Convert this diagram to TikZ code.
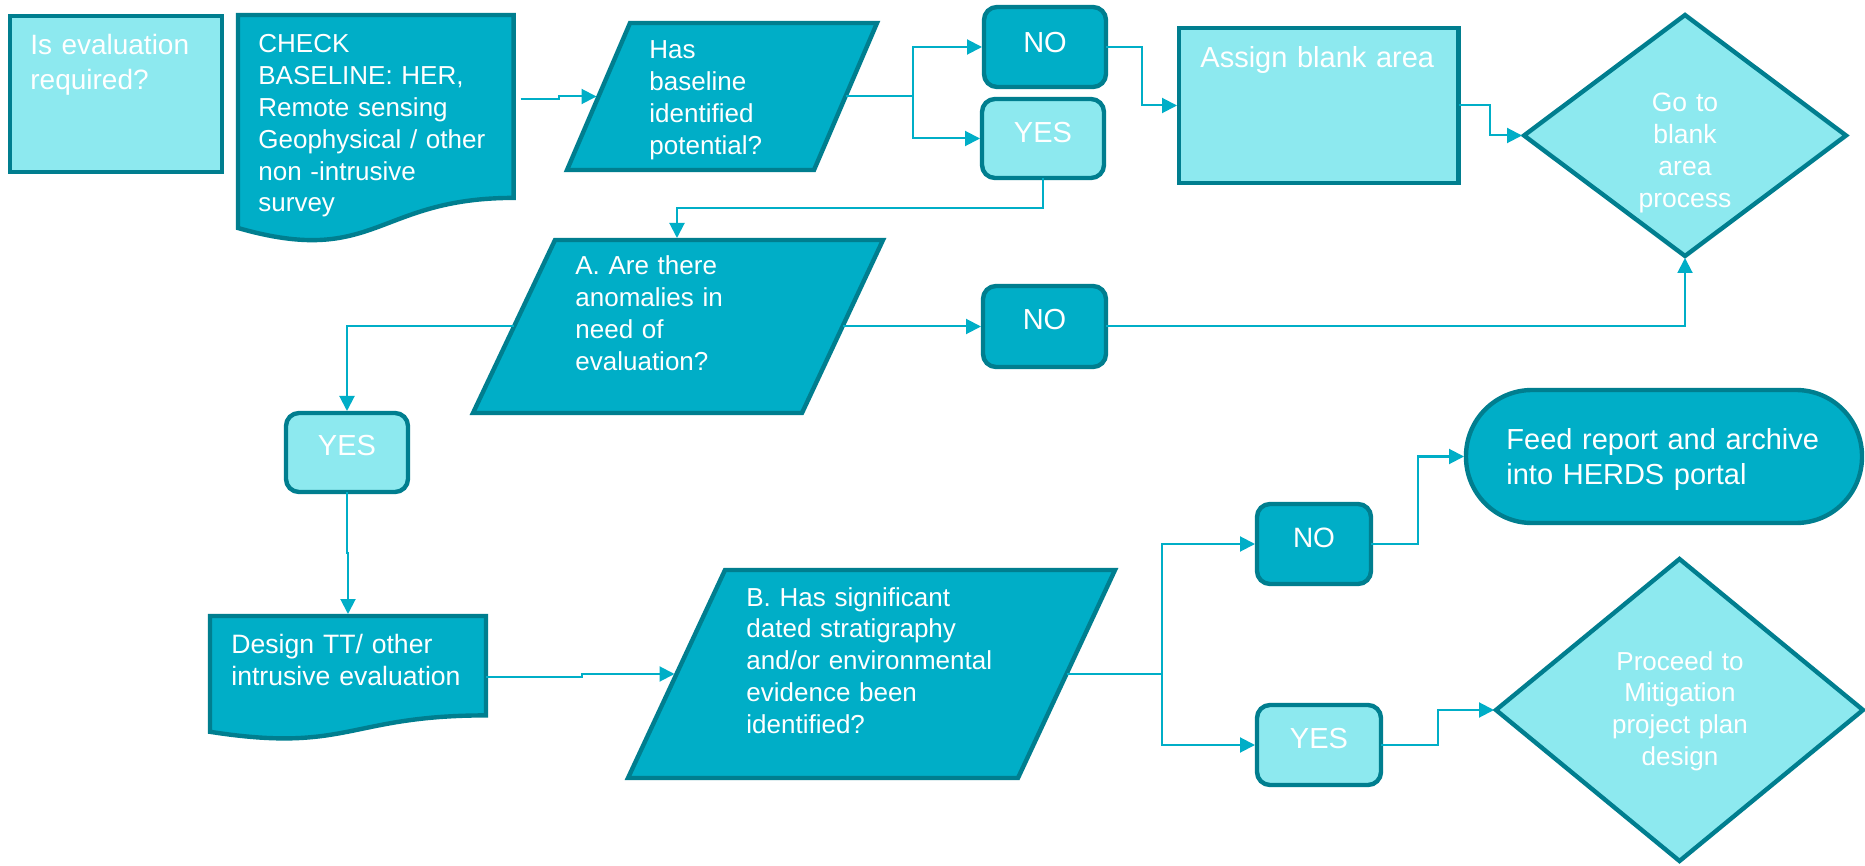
\documentclass[tikz,border=0pt]{standalone}
\usepackage{fontspec}
\setmainfont{Liberation Sans}
\usetikzlibrary{arrows.meta,shapes.geometric,fit}

\definecolor{flowdark}{HTML}{00AEC7}
\definecolor{flowlight}{HTML}{8DE9EF}
\definecolor{flowrim}{HTML}{007E8F}
\definecolor{flowwire}{HTML}{00AEC7}

\begin{document}
\begin{tikzpicture}[x=0.5pt, y=-0.5pt,
  rim/.style={draw=flowrim, line width=2.2pt},
  darkfill/.style={rim, fill=flowdark},
  lightfill/.style={rim, fill=flowlight},
  framed/.style={rectangle, inner sep=0pt, outer sep=0pt},
  pill/.style={framed, rounded corners=6.5pt},
  wire/.style={draw=flowwire, line width=1pt, shorten >=1pt,
    -{Triangle[length=7.5pt,width=7.5pt]}},
  lefttext/.style={text=white, inner sep=0pt, anchor=base west, align=left, text width=180pt},
  midtext/.style={text=white, inner sep=0pt, anchor=base, align=center, text width=160pt},
  fnt/.style 2 args={font=\fontsize{#1}{#2}\selectfont},
]
\fill[white] (0,0) rectangle (1865,866);
\useasboundingbox (0,0) rectangle (1865,866);

% ---------- top row ----------
\node[framed, lightfill, fit={(10,16) (222,172)}] (iseval) {};
\node[lefttext, fnt={14pt}{17.5pt}] (iseval-t) at (30,55) {Is evaluation\\required?};

% document shape with wavy foot
\path[darkfill] (238,15) -- (513.6,15) -- (513.6,197.9)
  .. controls (375.8,197.9) and (375.8,267.5) .. (238,228) -- cycle;
\node[framed, fit={(238,15) (513.6,198)}] (check) {};
\node[lefttext, fnt={13pt}{15.9pt}] (check-t) at (258,53)
  {CHECK\\BASELINE: HER,\\Remote sensing\\Geophysical / other\\non -intrusive\\survey};

% parallelogram: has baseline identified potential
\path[darkfill] (630,23) -- (877,23) -- (814,170) -- (567,170) -- cycle;
\coordinate (has-w) at (598.5,96.5);
\coordinate (has-e) at (845.5,96.5);
\node[lefttext, fnt={13pt}{16pt}] (has-t) at (649,59)
  {Has\\baseline\\identified\\potential?};

\node[pill, darkfill, fit={(984,7) (1106,87)}] (no1) {};
\node[midtext, fnt={14.5pt}{17pt}] (no1-t) at (1045,52.5) {NO};
\node[pill, lightfill, fit={(982,99) (1104,178)}] (yes1) {};
\node[midtext, fnt={14.5pt}{17pt}] (yes1-t) at (1043,142.5) {YES};

\node[framed, lightfill, fit={(1179,28) (1458.5,183)}] (assign) {};
\node[lefttext, fnt={14.5pt}{17pt}] (assign-t) at (1200,68) {Assign blank area};

\node[diamond, lightfill, inner sep=0pt, outer sep=0pt,
  minimum width=161pt, minimum height=120.5pt] (goblank) at (1685,135.5) {};
\node[midtext, fnt={13.25pt}{16pt}] (goblank-t) at (1685,112)
  {Go to\\blank\\area\\process};

% ---------- middle row ----------
\path[darkfill] (555,240) -- (883,240) -- (802,413) -- (473,413) -- cycle;
\coordinate (a-n) at (677,240);
\coordinate (a-w) at (514,326.5);
\coordinate (a-e) at (842.5,326.5);
\node[lefttext, fnt={13pt}{15.85pt}] (a-t) at (575,275)
  {A. Are there\\anomalies in\\need of\\evaluation?};

\node[pill, darkfill, fit={(983,286) (1106,367)}] (no2) {};
\node[midtext, fnt={14.5pt}{17pt}] (no2-t) at (1044.5,329.5) {NO};

\node[pill, lightfill, fit={(286,413) (408,492)}] (yes2) {};
\node[midtext, fnt={14.5pt}{17pt}] (yes2-t) at (347,455.5) {YES};

% ---------- bottom row ----------
\path[darkfill] (210,616) -- (486,616) -- (486,715.4)
  .. controls (348,715.4) and (348,753.3) .. (210,731.8) -- cycle;
\node[framed, fit={(210,616) (486,715)}] (design) {};
\node[lefttext, fnt={13.3pt}{16pt}] (design-t) at (231,653)
  {Design TT/ other\\intrusive evaluation};

\path[darkfill] (725,570) -- (1115,570) -- (1018,778) -- (628,778) -- cycle;
\coordinate (b-w) at (676.5,674);
\coordinate (b-e) at (1066.5,674);
\node[lefttext, fnt={13pt}{15.9pt}] (b-t) at (746,606)
  {B. Has significant\\dated stratigraphy\\and/or environmental\\evidence been\\identified?};

\node[pill, darkfill, fit={(1257,504) (1371,584)}] (no3) {};
\node[midtext, fnt={14pt}{17pt}] (no3-t) at (1314,547.5) {NO};
\node[pill, lightfill, fit={(1257,705) (1381,785)}] (yes3) {};
\node[midtext, fnt={14.5pt}{17pt}] (yes3-t) at (1319,748.5) {YES};

\node[framed, darkfill, rounded corners=33pt, fit={(1466,390) (1862,523)}] (feed) {};
\node[lefttext, fnt={14.5pt}{17.5pt}] (feed-t) at (1506,450)
  {Feed report and archive\\into HERDS portal};

\node[diamond, lightfill, inner sep=0pt, outer sep=0pt,
  minimum width=183.5pt, minimum height=151pt] (proceed) at (1679.5,710) {};
\node[midtext, fnt={13pt}{15.9pt}] (proceed-t) at (1680,670)
  {Proceed to\\Mitigation\\project plan\\design};

% ---------- connectors ----------
\draw[wire] ([xshift=3.5pt,yshift=3.75pt]check.east) -- (559,99) -- (559,96.5) -- (has-w);
\draw[wire] (has-e) -- (913,96.5) |- (no1.west);
\draw[wire] (has-e) -- (913,96.5) |- (yes1.west);
\draw[wire] (no1.east) -- (1141.5,47) |- (assign.west);
\draw[wire] (assign.east) -- (1490,105.5) |- (goblank.west);
\draw[wire] (yes1.south) -- (1043,208) -| (a-n);
\draw[wire] (a-w) -| (yes2.north);
\draw[wire] (a-e) -- (no2.west);
\draw[wire] (no2.east) -| (goblank.south);
\draw[wire] (yes2.south) -- (347,553) -- (348,553) -- (design.north);
\draw[wire] ([yshift=-5.75pt]design.east) -- (582,677) -- (582,674) -- (b-w);
\draw[wire] (b-e) -- (1162,674) |- (no3.west);
\draw[wire] (b-e) -- (1162,674) |- (yes3.west);
\draw[wire] (no3.east) -- (1418,544) |- (feed.west);
\draw[wire] (yes3.east) -- (1438,745) |- (proceed.west);
\end{tikzpicture}
\end{document}
